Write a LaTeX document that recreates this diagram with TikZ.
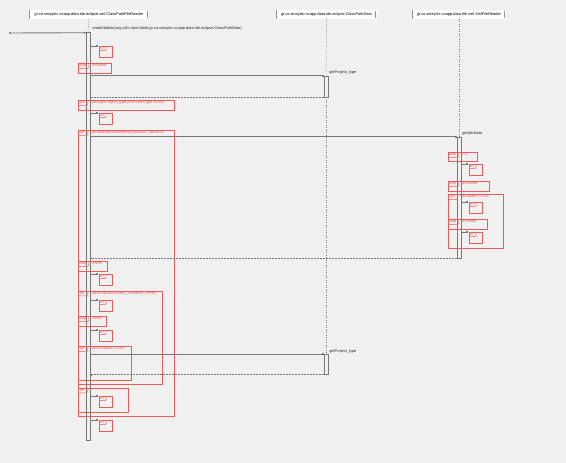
\documentclass[tikz,border=0pt]{standalone}
\usepackage{fontspec}
\setmainfont{Liberation Sans}
\usetikzlibrary{arrows.meta,positioning,calc}
\definecolor{bgc}{RGB}{240,240,240}
\definecolor{frc}{RGB}{236,90,90}
\definecolor{lnc}{RGB}{120,120,120}
\tikzset{
  hdr/.style  = {rectangle, draw=lnc!80, fill=white, double=white, double distance=0.5pt,
                 font=\fontsize{3.9}{4.2}\selectfont, inner sep=1.5pt, minimum height=8pt},
  life/.style = {lnc, line width=0.5pt, dash pattern=on 1pt off 1.5pt},
  actv/.style = {rectangle, draw=lnc, fill=bgc, line width=0.6pt, minimum width=4pt, inner sep=0pt},
  msg/.style  = {-{Square[length=1.6pt,width=1.6pt]}, lnc, line width=0.9pt},
  ret/.style  = {-{Square[length=1.6pt,width=1.6pt]}, lnc, line width=0.7pt, dash pattern=on 1.5pt off 1.5pt},
  frm/.style  = {draw=frc, line width=0.5pt},
  ftxt/.style = {frc, font=\fontsize{3.8}{4.2}\selectfont, inner sep=0.9pt, anchor=north west},
  mtxt/.style = {black!85, font=\fontsize{3.9}{4.2}\selectfont, inner sep=0.8pt, anchor=south west},
  refb/.style = {rectangle, frm, minimum width=13pt, minimum height=10.5pt, inner sep=0pt, anchor=north west},
}
% combined fragment: name, x1, y1, x2, y2, kind, guard
\newcommand\seqfrag[7]{%
  \draw[frm] (#2,#3) rectangle (#4,#5);
  \node[ftxt, minimum width=8pt] (#1) at (#2,#3) {#6};
  \draw[frm] (#1.south west) -- (#1.south east) -- ([xshift=1.5pt,yshift=1.5pt]#1.south east) -- ([xshift=1.5pt]#1.north east);
  \node[ftxt] at ([xshift=4pt]#1.north east) {#7};
}
% interaction use: name, activation, x, y
\newcommand\seqref[4]{%
  \node[refb] (#1) at (#3,#4) {};
  \node[ftxt, font=\fontsize{3.2}{3.5}\selectfont] (#1t) at (#1.north west) {ref};
  \draw[frm] (#1t.south west) -- (#1t.south east) -- ([xshift=1.2pt,yshift=1.2pt]#1t.south east) -- ([xshift=1.2pt]#1t.north east);
  \draw[msg] (#2.east |- #1.north west) -- ([xshift=-1pt]#1.north west);
}

\begin{document}
\begin{tikzpicture}[x=1pt,y=-1pt]
  \useasboundingbox[fill=bgc] (0,0) rectangle (566,463);

  % lifelines
  \node[hdr, minimum width=118pt] (cpr) at (89,14.5) {jp.co.smaytec.scapp.data.ide.eclipse.xml.ClassPathFileReader};
  \node[hdr, minimum width=99pt] (cpd) at (326.5,14.5) {jp.co.smaytec.scapp.data.ide.eclipse.ClassPathData};
  \node[hdr, minimum width=92pt] (xfr) at (459,14.5) {jp.co.smaytec.scapp.data.file.xml.XmlFileReader};

  \node[actv, minimum height=408pt] (a1) at (88,236) {};
  \node[actv, minimum height=21pt] (a2) at (326,86.5) {};
  \node[actv, minimum height=20pt] (a2b) at (326,364.5) {};
  \node[actv, minimum height=121pt] (a3) at (459,197.5) {};

  \draw[life] (cpr.south) -- (a1.north);
  \draw[life] (cpd.south) -- (a2.north);
  \draw[life] (a2.south) -- (a2b.north);
  \draw[life] (xfr.south) -- (a3.north);

  % found message
  \coordinate (src) at (10,33);
  \fill[black!80] (src) circle (0.9pt);
  \draw[msg] (src) -- ([yshift=-1pt]a1.north west);
  \node[mtxt] (m0) at ([xshift=1pt]a1.north east) {readAttribute(org.w3c.dom.Node,jp.co.smaytec.scapp.data.ide.eclipse.ClassPathData)};

  \seqref{r1}{a1}{99}{46}
  \seqfrag{f1}{78}{63}{111}{73}{loop}{attribute}

  \draw[msg] (a1.east |- a2.north) -- (a2.north west);
  \node[mtxt] (m1) at (a2.north east) {getProject\_type};
  \draw[ret] (a2.south west) -- (a1.east |- a2.south);

  \seqfrag{f2}{78}{100}{174}{110}{opt}{data.getProject\_type()!=ProjectType.NONE}
  \seqref{r2}{a1}{99}{113}

  \seqfrag{f3}{78}{130}{174}{416}{opt}{attribute.getNodeName().equals(\_attribute)}

  \draw[msg] (a1.east |- a3.north) -- (a3.north west);
  \node[mtxt] (m2) at (a3.north east) {getAttribute};

  \seqfrag{f4}{448}{152}{477}{161}{loop}{i<n}
  \seqref{r3}{a3}{469}{164}
  \seqfrag{f5}{448}{181}{489}{191}{loop}{attributes}
  \seqfrag{f6}{448}{194}{503}{248}{opt}{attributes != null}
  \seqref{r4}{a3}{469}{202}
  \seqfrag{f7}{448}{219}{487}{229}{loop}{attribute}
  \seqref{r5}{a3}{469}{232}

  \draw[ret] (a3.south west) -- (a1.east |- a3.south);

  \seqfrag{f8}{78}{261}{107}{271}{loop}{name}
  \seqref{r6}{a1}{99}{274}
  \seqfrag{f9}{78}{291}{162}{384}{alt}{name.equals(NAME\_container\_name)}
  \seqref{r7}{a1}{99}{300}
  \seqfrag{f10}{78}{316}{106}{326}{loop}{value}
  \seqref{r8}{a1}{99}{330}
  \seqfrag{f11}{78}{346}{131}{380}{opt}{value.equals("true")}

  \draw[msg] (a1.east |- a2b.north) -- (a2b.north west);
  \node[mtxt] (m3) at (a2b.north east) {getProject\_type};
  \draw[ret] (a2b.south west) -- (a1.east |- a2b.south);

  \seqfrag{f12}{78}{388}{128}{412}{alt}{}
  \seqref{r9}{a1}{99}{396}
  \seqref{r10}{a1}{99}{420}
\end{tikzpicture}
\end{document}
